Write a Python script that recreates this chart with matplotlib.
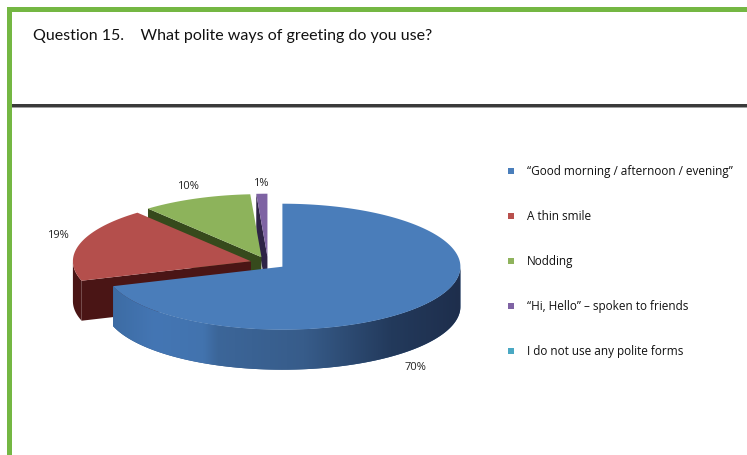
import numpy as np
import matplotlib.pyplot as plt
from matplotlib.patches import Polygon, Rectangle
from matplotlib.colors import LinearSegmentedColormap

# Data
categories = ["\u201cGood morning / afternoon / evening\u201d", "A thin smile", "Nodding",
              "\u201cHi, Hello\u201d \u2013 spoken to friends", "I do not use any polite forms"]
values = [70, 19, 10, 1, 0]
pct_labels = ["70%", "19%", "10%", "1%", ""]

top_colors = ["#4A7DBA", "#B44F4C", "#8DB35B", "#7E63A3", "#4BACC6"]
wall_colors = ["#2E5686", "#4A1515", "#364A1C", "#2E2346", "#1E5566"]
legend_colors = ["#4A7EBB", "#B9504D", "#8FB35C", "#7F63A4", "#4AA8C3"]

# layout (pixel space)
W, H = 747, 456
cx, cy, rx, ry, depth = 268, 264, 178, 63, 40
explode = 0.1
label_xy = [(415, 368), (58, 236), (188, 187), (261, 184)]

fig = plt.figure(figsize=(W / 100, H / 100), dpi=100)
ax = fig.add_axes([0, 0, 1, 1])
ax.set_xlim(0, W)
ax.set_ylim(H, 0)
ax.axis("off")

# frame
green = "#74B743"
ax.add_patch(Rectangle((7, 8), 5, H, color=green, lw=0))
ax.add_patch(Rectangle((7, 8), W, 5, color=green, lw=0))
ax.add_patch(Rectangle((12, 104.5), W, 3, color="#3A3A3A", lw=0))
ax.add_patch(Rectangle((12, 107.5), W, 1.2, color="#A0A0A0", lw=0))

ax.text(33, 36, "Question 15.    What polite ways of greeting do you use?",
        fontsize=11.5, family="Lato", va="center", ha="left", color="#111111")

# shading of the big slice's outer wall (light left -> dark right)
blue_wall = LinearSegmentedColormap.from_list(
    "bw", [(0, "#3D6CA4"), (0.12, "#4476B4"), (0.26, "#4273AE"), (0.3, "#3C6699"),
           (0.55, "#375C8A"), (0.8, "#233A5C"), (1, "#1E2E4C")])


def pt(x0, y0, th, z=0):
    return (x0 + rx * np.sin(th), y0 - ry * np.cos(th) + z)


total = sum(values)
angles = np.cumsum([0] + values) / total * 2 * np.pi
slices = []
for i, v in enumerate(values):
    if v <= 0:
        continue
    a, b = angles[i], angles[i + 1]
    m = (a + b) / 2
    x0 = cx + explode * rx * np.sin(m)
    y0 = cy - explode * ry * np.cos(m)
    slices.append((y0 - ry * np.cos(m), i, a, b, x0, y0))

# back to front
slices.sort()
z = 1
for _, i, a, b, x0, y0 in slices:
    wc = wall_colors[i]
    # radial walls
    if np.sin(a) < -1e-6:
        p = pt(x0, y0, a)
        poly = [(x0, y0), p, (p[0], p[1] + depth), (x0, y0 + depth)]
        ax.add_patch(Polygon(poly, closed=True, fc=wc, ec="none", zorder=z))
    if np.sin(b) > 1e-6:
        p = pt(x0, y0, b)
        poly = [(x0, y0), p, (p[0], p[1] + depth), (x0, y0 + depth)]
        ax.add_patch(Polygon(poly, closed=True, fc=wc, ec="none", zorder=z))
    # outer wall, front half only
    lo, hi = max(a, np.pi / 2), min(b, 3 * np.pi / 2)
    if hi > lo:
        ts = np.linspace(lo, hi, 200)
        upper = [pt(x0, y0, t) for t in ts]
        lower = [(px, py + depth) for px, py in upper[::-1]]
        wall = Polygon(upper + lower, closed=True, fc=wc, ec="none", zorder=z + 0.1)
        ax.add_patch(wall)
        if i == 0:
            xs = [p[0] for p in upper]
            ys = [p[1] for p in upper]
            grad = np.linspace(0, 1, 256).reshape(1, -1)
            im = ax.imshow(grad, cmap=blue_wall, aspect="auto", zorder=z + 0.2,
                           interpolation="bilinear",
                           extent=(min(xs), max(xs), max(ys) + depth + 2, min(ys) - 2))
            im.set_clip_path(wall)
    # top face
    ts = np.linspace(a, b, 200)
    poly = [(x0, y0)] + [pt(x0, y0, t) for t in ts]
    ax.add_patch(Polygon(poly, closed=True, fc=top_colors[i], ec="none", zorder=z + 0.3))
    z += 1

ax.set_xlim(0, W)
ax.set_ylim(H, 0)

for (lx, ly), s in zip(label_xy, pct_labels):
    ax.text(lx, ly, s, fontsize=8, family="Open Sans", ha="center", va="center",
            color="#222222", zorder=10)

# legend
ly0, dy = 172, 45
for k, (lab, col) in enumerate(zip(categories, legend_colors)):
    y = ly0 + k * dy
    ax.add_patch(Rectangle((508, y - 3), 6, 6, color=col, lw=0))
    ax.text(527, y, lab, fontsize=8.5, family="Open Sans", ha="left", va="center", color="#111111")

fig.savefig("out.png", dpi=100)
